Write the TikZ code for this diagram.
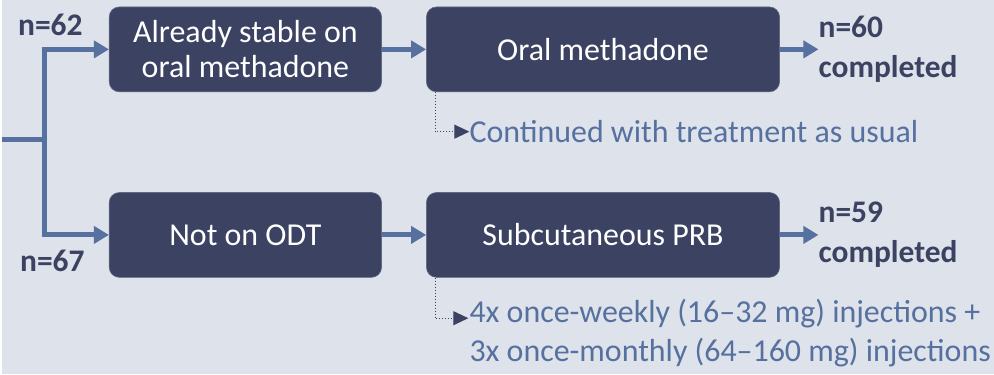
\documentclass[tikz,border=0pt]{standalone}
\usepackage{fontspec}
\setmainfont{Carlito}
\usetikzlibrary{arrows.meta}
\definecolor{bg}{HTML}{DEE2EA}
\definecolor{boxc}{HTML}{3B4262}
\definecolor{arrc}{HTML}{56709F}
\definecolor{subc}{HTML}{56709F}
\tikzset{
  box/.style={rectangle, rounded corners=10pt, fill=boxc, draw=boxc!80!white, line width=0.6pt,
    text=white, align=center, font=\fontsize{32}{35}\selectfont, inner sep=0pt, minimum height=85pt},
  flow/.style={draw=arrc, line width=5pt, -{Triangle[length=15pt,width=17pt]}},
  trunk/.style={draw=arrc, line width=5pt},
  dotarr/.style={draw=boxc, dotted, line width=1pt, -{Triangle[length=15pt,width=14pt]}},
  count/.style={text=boxc, font=\bfseries\fontsize{31.5}{40}\selectfont, align=left, inner sep=0pt},
  subtext/.style={text=subc, font=\fontsize{32}{39}\selectfont, align=left, inner sep=0pt}
}
\begin{document}
\begin{tikzpicture}[x=1pt,y=-1pt]
\path[fill=bg] (0,0) rectangle (994,375);
\node[box, minimum width=273pt] (b1) at (243.5,49.5) {Already stable on\\oral methadone};
\node[box, minimum width=354pt] (b2) at (602,49.5) {Oral methadone};
\node[box, minimum width=273pt] (b3) at (243.5,235.5) {Not on ODT};
\node[box, minimum width=354pt] (b4) at (602,235.5) {Subcutaneous PRB};
\coordinate (s) at (0,140);
\coordinate (j) at (42,140);
\draw[trunk] (s) -- (j);
\draw[flow] (j) |- (b1.west);
\draw[flow] (j) |- (b3.west);
\draw[flow] (b1) -- (b2);
\draw[flow] (b3) -- (b4);
\node[count, anchor=west] (c1) at (818,49.5) {n=60\\completed};
\node[count, anchor=west] (c2) at (818,235.5) {n=59\\completed};
\draw[flow] (b2.east) -- (c1.west);
\draw[flow] (b4.east) -- (c2.west);
\node[count] (n62) at (48,25) {n=62};
\node[count] (n67) at (50,262) {n=67};
\node[subtext, anchor=west] (t1) at (468,132) {Continued with treatment as usual};
\node[subtext, anchor=north west] (t2) at (468,300) {4x once-weekly (16–32 mg) injections +\\3x once-monthly (64–160 mg) injections};
\coordinate (t2a) at (467,319);
\draw[dotarr] ([xshift=9pt]b2.south west) |- (t1.west);
\draw[dotarr] ([xshift=9pt]b4.south west) |- (t2a);
\end{tikzpicture}
\end{document}
